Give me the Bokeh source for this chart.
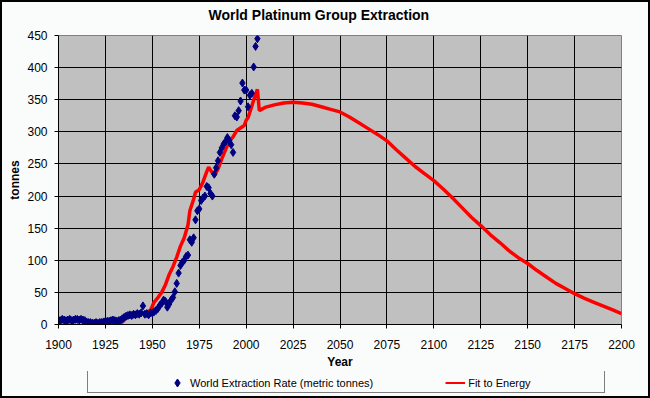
from bokeh.plotting import figure
from bokeh.models import Legend, LegendItem, FixedTicker, Range1d, Label
from bokeh.layouts import column
from bokeh.embed import file_html
from bokeh.resources import INLINE

# ---- data ----
blue_years = list(range(1900, 2007))
blue_vals = [7, 6, 8, 7, 6, 7, 8, 6, 7, 8,
             8, 7, 8, 7, 6, 4, 3, 3, 2, 2,
             3, 2, 3, 3, 4, 5, 5, 5, 6, 7,
             6, 5, 6, 7, 9, 11, 13, 14, 15, 14,
             16, 15, 17, 16, 18, 29, 16, 17, 15, 18,
             18, 20, 22, 25, 30, 33, 38, 36, 27, 32,
             38, 42, 51, 64, 80, 92, 97, 100, 106, 108,
             132, 128, 135, 163, 177, 180, 193, 197, 200, 215,
             213, 204, 200, 234, 244, 255, 268, 275, 281, 285,
             291, 286, 280, 268, 325, 323, 333, 348, 376, 365,
             365, 339, 357, 360, 401, 433, 445]

red_years = [1931, 1934, 1936, 1938, 1941, 1944, 1947, 1949, 1951, 1953,
             1955, 1957, 1959, 1961, 1963, 1965, 1967, 1969, 1970, 1972,
             1973, 1975, 1977, 1979, 1980, 1982, 1983, 1985, 1987, 1989,
             1991, 1993, 1995, 1997, 1999, 2000, 2001, 2003, 2005, 2006,
             2007, 2010, 2015, 2020, 2025, 2030, 2035, 2040, 2045, 2050,
             2055, 2060, 2065, 2070, 2075, 2080, 2085, 2090, 2095, 2100,
             2105, 2110, 2115, 2120, 2125, 2130, 2135, 2140, 2145, 2150,
             2155, 2160, 2165, 2170, 2175, 2180, 2185, 2190, 2195, 2200]
red_vals = [0, 4, 10, 14, 17, 18, 19, 22, 35, 42,
            50, 62, 78, 90, 105, 122, 135, 155, 177, 195,
            206, 210, 222, 238, 245, 236, 232, 242, 258, 272,
            286, 292, 302, 306, 310, 318, 322, 340, 358, 366,
            333, 338, 342, 345, 346, 345, 343, 339, 335, 331,
            323, 314, 305, 296, 286, 272, 259, 246, 235, 224,
            211, 197, 182, 167, 154, 140, 128, 115, 104, 95,
            84, 74, 64, 56, 48, 41, 35, 29, 23, 17]

x_ticks = [1900, 1925, 1950, 1975, 2000, 2025, 2050, 2075, 2100, 2125, 2150, 2175, 2200]
y_ticks = [0, 50, 100, 150, 200, 250, 300, 350, 400, 450]

title_text = "World Platinum Group Extraction"
x_label = "Year"
y_label = "tonnes"
blue_label = "World Extraction Rate (metric tonnes)"
red_label = "Fit to Energy"

FONT = "Liberation Sans"
BG = "#FAFCFC"
BLUE = "#000080"
RED = "#FF0000"
BL, BR = 56, 27   # left/right borders shared by all rows so their frames line up


def strip(height):
    f = figure(width=646, height=height, output_backend="svg", toolbar_location=None,
               x_range=Range1d(0, 1), y_range=Range1d(0, 1),
               x_axis_type=None, y_axis_type=None,
               min_border_left=BL, min_border_right=BR, min_border_top=0, min_border_bottom=0)
    f.background_fill_color = BG
    f.border_fill_color = BG
    f.outline_line_color = None
    f.xgrid.visible = False
    f.ygrid.visible = False
    return f


# ---- title strip ----
tf = strip(26)
tf.add_layout(Label(x=150, y=14, x_units="screen", y_units="screen", text=title_text,
                    text_font=FONT, text_font_size="14px", text_font_style="bold",
                    text_color="black", text_baseline="middle", text_align="left"))

# ---- main chart ----
p = figure(width=646, height=343, output_backend="svg", toolbar_location=None,
           x_range=Range1d(1900, 2200), y_range=Range1d(0, 450),
           min_border_left=BL, min_border_right=BR, min_border_top=7, min_border_bottom=46)

p.background_fill_color = "#C0C0C0"
p.border_fill_color = BG
p.outline_line_color = "#808080"

for ax in (p.xaxis[0], p.yaxis[0]):
    ax.axis_line_color = "black"
    ax.major_tick_line_color = "black"
    ax.major_tick_out = 4
    ax.major_tick_in = 0
    ax.minor_tick_line_color = None
    ax.major_label_text_font = FONT
    ax.major_label_text_font_size = "12px"
    ax.major_label_text_color = "black"
    ax.axis_label_text_font = FONT
    ax.axis_label_text_font_size = "12px"
    ax.axis_label_text_font_style = "bold"
    ax.axis_label_text_color = "black"

p.xaxis.ticker = FixedTicker(ticks=x_ticks)
p.yaxis.ticker = FixedTicker(ticks=y_ticks)
p.xaxis.axis_label = x_label
p.yaxis.axis_label = y_label
p.xaxis.major_label_standoff = 11
p.yaxis.major_label_standoff = 7
p.xaxis.axis_label_standoff = 3
p.yaxis.axis_label_standoff = 2

for g in (p.xgrid[0], p.ygrid[0]):
    g.grid_line_color = "black"
    g.grid_line_width = 1
p.xgrid.ticker = FixedTicker(ticks=x_ticks)
p.ygrid.ticker = FixedTicker(ticks=y_ticks)

p.line(red_years, red_vals, line_color=RED, line_width=3.5)
p.scatter(blue_years, blue_vals, marker="diamond", size=8,
          fill_color=BLUE, line_color=BLUE)

# ---- legend strip ----
lf = strip(25)

# key renderers for the legend only (placed outside the visible range)
dummy = lf.scatter(x=[-1], y=[-1], marker="circle", size=1, fill_alpha=0, line_alpha=0)
blue_key = lf.scatter(x=[-1], y=[-1], marker="diamond", size=8, fill_color=BLUE, line_color=BLUE)
red_key = lf.line(x=[-2, -1], y=[-1, -1], line_color=RED, line_width=2)

box = Legend(items=[LegendItem(label=" ", renderers=[dummy])],
             location=(29, 3), padding=0, spacing=0, glyph_width=20, glyph_height=21,
             label_standoff=0, label_width=496, label_height=21,
             border_line_color="black", border_line_width=1,
             background_fill_color=BG, background_fill_alpha=1,
             label_text_font_size="1px")
lf.add_layout(box, "center")

leg = Legend(items=[LegendItem(label=blue_label, renderers=[blue_key]),
                    LegendItem(label=red_label, renderers=[red_key])],
             location=(109, 3), orientation="horizontal", padding=0, spacing=72,
             glyph_width=20, glyph_height=21, label_standoff=3, label_height=21,
             border_line_color=None, background_fill_alpha=0,
             label_text_font=FONT, label_text_font_size="11px", label_text_color="black")
lf.add_layout(leg, "center")

inner = column(tf, p, lf, spacing=0, width=646, height=394, margin=(2, 2, 2, 2))
inner.styles = {"background-color": BG}
layout = column(inner, spacing=0, width=650, height=398)
layout.styles = {"background-color": "black"}

open("out.html", "w").write(file_html(layout, INLINE))
